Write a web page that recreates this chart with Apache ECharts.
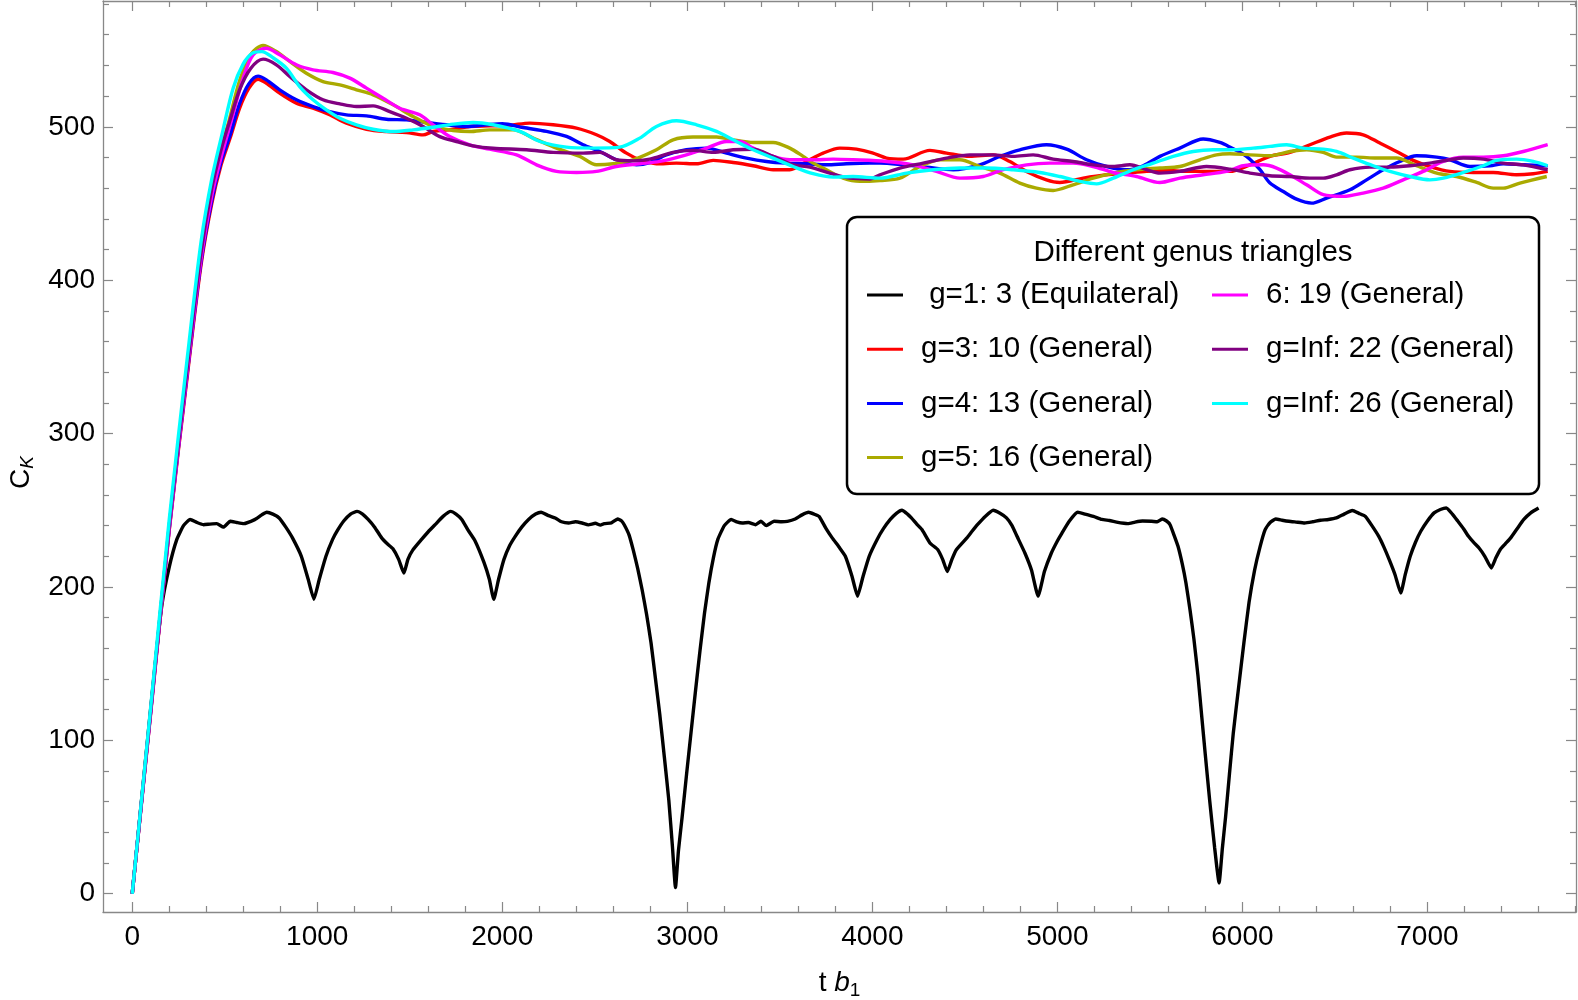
<!DOCTYPE html>
<html>
<head>
<meta charset="utf-8">
<script src="https://cdn.jsdelivr.net/npm/echarts@6/dist/echarts.min.js"></script>
<style>html,body{margin:0;padding:0;background:#fff}#c{width:1578px;height:1000px}</style>
</head>
<body>
<div id="c"></div>
<script>
// ---- tick values ----
const xMajorTicks = [0,1000,2000,3000,4000,5000,6000,7000];
const xMinorTicks = [200,400,600,800,1200,1400,1600,1800,2200,2400,2600,2800,3200,3400,3600,3800,4200,4400,4600,4800,5200,5400,5600,5800,6200,6400,6600,6800,7200,7400,7600,7800];
const yMajorTicks = [0,100,200,300,400,500];
const yMinorTicks = [20,40,60,80,120,140,160,180,220,240,260,280,320,340,360,380,420,440,460,480,520,540,560,580];

// ---- series names ----
const seriesNames = [' g=1: 3 (Equilateral)','g=3: 10 (General)','g=4: 13 (General)','g=5: 16 (General)','6: 19 (General)','g=Inf: 22 (General)','g=Inf: 26 (General)'];
const legendTitle = 'Different genus triangles';

// ---- data [t b1, C_K] ----
const g1Equilateral = [[0,0],[70,85],[120,145],[160,188],[200,213],[241,231],[277,240],[313,244],[350,242],[385,240.6],[420,241],[457,241.3],[493,239],[530,242.8],[565,242],[602,241.3],[662,243.9],[700,247],[727,248.7],[760,247.5],[794,245],[830,239],[866,232],[914,220],[951,205],[982,192],[1011,205],[1047,220],[1083,231],[1110,237],[1143,243],[1180,247.5],[1215,249.3],[1245,247.5],[1275,244],[1310,239],[1348,232],[1380,228],[1408,225],[1440,218],[1468,209],[1490,218],[1516,224],[1564,231],[1600,236],[1637,240.6],[1680,246],[1721,249.3],[1750,247.5],[1781,244],[1815,237],[1853,230],[1901,216],[1930,205],[1954,192],[1980,205],[2009,218],[2040,227],[2070,233],[2105,239],[2142,244],[2180,247.5],[2210,248.7],[2250,246.5],[2286,245],[2320,242.5],[2359,241.7],[2395,242.5],[2431,241.7],[2465,240.5],[2503,241.5],[2530,240.3],[2551,241.3],[2590,241.8],[2623,244.3],[2645,243],[2659,240.6],[2685,234],[2708,224],[2732,212],[2756,198],[2780,182],[2804,163.5],[2828,140],[2852,116],[2876,89],[2900,61],[2920,30],[2936,4],[2952,28],[2972,50],[2996,78],[3020,105],[3044,132],[3069,159],[3093,183],[3117,203],[3141,219],[3165,231],[3200,240],[3237,244],[3267,242.5],[3297,241.7],[3330,242],[3369,240.6],[3398,242.8],[3427,240],[3469,242.8],[3510,242.5],[3541,242.8],[3583,244.3],[3620,247],[3655,248.7],[3685,247.5],[3712,246],[3750,238],[3783,232],[3820,226],[3854,220],[3890,207],[3920,194],[3950,207],[3983,220],[4026,231],[4060,238],[4097,244],[4130,248],[4160,250],[4190,247.5],[4211,245],[4240,241],[4268,237.4],[4311,228.7],[4354,224.3],[4380,218],[4405,210],[4430,218],[4454,224.3],[4511,232],[4540,236.5],[4568,240.6],[4610,246],[4653,250],[4690,248],[4725,245],[4755,240],[4782,233],[4825,222],[4860,211],[4896,194],[4930,210],[4967,222],[5000,230],[5024,235],[5065,243],[5110,248.7],[5150,247.5],[5195,246],[5240,244],[5281,243.3],[5320,242.3],[5360,241.5],[5381,241.3],[5420,242.3],[5460,243],[5509,242.8],[5540,242.5],[5566,244.3],[5590,243],[5609,240.6],[5630,234],[5652,226.5],[5675,215],[5695,202.6],[5717,185],[5738,166],[5760,142],[5780,116],[5800,90],[5823,61],[5850,30],[5874,7],[5892,30],[5909,50],[5930,78],[5951,105],[5980,135],[6008,163.5],[6036,190],[6066,211],[6095,226],[6123,237.4],[6150,242],[6180,244.3],[6215,243.5],[6251,242.8],[6290,242.3],[6337,241.7],[6380,242.5],[6422,243.5],[6465,244],[6508,245],[6550,247.5],[6594,249.8],[6630,248],[6665,246],[6700,240],[6737,233],[6765,226],[6793,218],[6825,208],[6856,196],[6880,208],[6907,220],[6935,229],[6964,236.3],[7000,243],[7036,248.3],[7070,250.5],[7102,251.5],[7135,247.5],[7165,242.8],[7195,238],[7222,233],[7250,229],[7279,225.4],[7310,220],[7345,212.4],[7370,219],[7393,224.3],[7420,228],[7450,232],[7485,238],[7521,244],[7560,248.5],[7601,251.5]];

const g3General = [[0,0],[100,118],[200,237],[300,340],[372,410],[430,450],[480,475],[530,493],[580,512],[630,525],[680,531],[725,528.4],[797,521.9],[887,515.4],[977,512.1],[1067,507.8],[1158,502.3],[1266,498.4],[1374,496.9],[1482,496.3],[1572,494.7],[1626,496.9],[1734,498.4],[1824,500.2],[1932,500.6],[2040,501],[2149,502.4],[2275,501.3],[2401,499.1],[2509,494.8],[2581,490.4],[2671,482.8],[2743,478.5],[2833,475.9],[2941,476.3],[3050,475.9],[3140,478.1],[3248,476.7],[3356,474.6],[3464,472],[3554,472],[3644,477.4],[3734,482.8],[3824,486.1],[3914,485.4],[4000,483],[4077,479.6],[4167,478.9],[4311,484.6],[4401,482.8],[4527,480.7],[4653,481.7],[4743,477.4],[4833,470.9],[4941,465.4],[5013,463.7],[5140,466.5],[5266,468.7],[5374,469.8],[5482,470.9],[5590,471.5],[5698,470.9],[5806,470.9],[5932,470.9],[6041,475.2],[6149,480.7],[6257,483.3],[6365,488.3],[6473,493.3],[6563,495.9],[6653,494.8],[6743,489.4],[6833,483.9],[6923,478.1],[7013,474.1],[7122,470.9],[7248,470.2],[7356,470.2],[7482,468.7],[7572,469.4],[7650,470.9]];

const g4General = [[0,0],[100,119],[200,238],[300,342],[372,412],[430,452],[480,477],[530,495],[580,515],[630,528],[680,533],[725,530.6],[797,524.1],[887,517.6],[977,513.2],[1067,509.9],[1158,507.8],[1266,507.1],[1374,504.9],[1482,504.5],[1590,502.8],[1698,501.3],[1806,500.2],[1914,501.3],[2000,502],[2113,499.5],[2239,497],[2347,493.7],[2437,488.3],[2527,483.9],[2617,478.5],[2725,475.2],[2797,476.7],[2887,481.7],[2995,485],[3104,486.1],[3212,482.8],[3320,479.6],[3428,477.4],[3536,476.3],[3644,475.9],[3752,475.2],[3860,475.9],[3986,476.3],[4041,476.3],[4167,475.2],[4293,473.7],[4437,472],[4581,475.2],[4689,480.7],[4797,485],[4941,488.3],[5050,485.4],[5158,478.5],[5266,474.1],[5374,472],[5464,474.6],[5554,480.7],[5662,486.1],[5788,492],[5878,489.8],[5932,486.8],[6022,480.7],[6095,472],[6149,463.3],[6221,457.8],[6293,452.8],[6374,450.2],[6455,453.5],[6581,458.9],[6671,465.4],[6761,472],[6851,477.4],[6941,481.1],[7050,480.2],[7122,478.5],[7230,474.1],[7338,474.6],[7410,475.9],[7518,475.2],[7650,474.6]];

const g5General = [[0,0],[100,120],[200,240],[300,346],[372,418],[430,460],[480,486],[521,503],[580,530],[640,547],[707,553],[779,549.1],[851,542.6],[941,534.9],[1031,529.5],[1122,527.3],[1212,524.1],[1302,520.8],[1410,514.3],[1518,506.7],[1626,500.2],[1734,497.6],[1824,496.9],[1932,498],[2059,498],[2167,492.6],[2293,486.1],[2419,480.7],[2509,475.2],[2599,475.9],[2707,478.5],[2833,485],[2923,491.5],[3031,493.3],[3158,493.3],[3248,491.5],[3356,489.8],[3464,489.8],[3554,486.1],[3626,480.7],[3680,476.3],[3752,472],[3842,466.5],[3932,464.4],[4041,465],[4149,466.5],[4257,474.1],[4365,478.5],[4473,478.5],[4581,474.1],[4689,469.8],[4797,463.3],[4887,460],[4977,458.5],[5085,462.2],[5194,466.5],[5302,469.8],[5428,472],[5554,473.1],[5662,474.1],[5770,478.5],[5860,481.7],[5932,482.4],[6041,481.7],[6149,481.1],[6257,483.9],[6347,485],[6437,483.3],[6509,480.2],[6617,480.2],[6725,479.6],[6833,479.6],[6941,474.6],[7050,469.8],[7158,467.6],[7266,463.7],[7356,460],[7410,460],[7500,463.3],[7645,467.6]];

const g6General = [[0,0],[100,119],[200,238],[300,343],[372,414],[430,455],[480,480],[538,505],[600,532],[653,546.9],[725,551.2],[797,546.9],[887,540.4],[977,537.1],[1085,535.4],[1176,531.7],[1266,525.2],[1356,518.6],[1446,512.1],[1554,507.8],[1626,501.3],[1716,493.6],[1824,488.2],[1932,485.4],[2077,481.7],[2185,475.2],[2293,470.9],[2401,470.2],[2509,470.9],[2617,474.1],[2743,475.9],[2851,477.4],[2995,481.7],[3104,486.1],[3212,490.4],[3284,490.4],[3356,486.1],[3464,480.7],[3554,478.5],[3680,478.5],[3788,478.9],[3896,478.5],[4077,477.4],[4221,475.2],[4347,470.9],[4473,466.5],[4599,467.6],[4707,472],[4833,475.2],[4959,476.3],[5085,476.3],[5194,474.1],[5302,470.2],[5428,467.6],[5554,463.7],[5662,466.5],[5788,468.7],[5914,470.9],[6005,474.6],[6113,475.2],[6185,473.1],[6257,468.7],[6347,462.2],[6437,455.7],[6545,454.6],[6653,456.8],[6761,460],[6869,465.4],[6977,470.9],[7086,477.4],[7194,480.2],[7302,480.2],[7410,481.1],[7518,483.9],[7650,488.3]];

const gInf22General = [[0,0],[100,120],[200,240],[300,346],[372,418],[430,460],[480,485],[525,503],[580,524],[640,538],[707,544.1],[779,540.4],[851,532.8],[941,524.1],[1031,517.6],[1122,514.9],[1212,513.2],[1302,513.6],[1392,509.9],[1482,505.6],[1572,500.2],[1662,493.6],[1752,490.4],[1842,487.6],[1950,486],[2131,485],[2275,483.3],[2437,482.8],[2527,483.3],[2617,478.5],[2707,477.8],[2797,478.9],[2923,483.3],[3031,484.6],[3140,483.3],[3248,485],[3356,485.4],[3464,480.7],[3572,475.2],[3662,473.7],[3770,469.8],[3878,466.5],[3986,466],[4041,468.7],[4149,473.1],[4275,476.3],[4401,479.6],[4527,481.7],[4653,481.7],[4761,480.7],[4869,481.7],[4977,478.9],[5085,477.4],[5194,475.2],[5302,474.1],[5392,475.2],[5482,472],[5554,469.8],[5662,470.9],[5806,474.1],[5932,472.4],[6041,469.8],[6149,468.1],[6257,467.6],[6365,466.5],[6437,466.5],[6509,468.7],[6581,472],[6689,473.7],[6797,473.7],[6905,474.6],[7013,476.3],[7122,478.5],[7194,479.6],[7302,478.9],[7410,476.3],[7518,475.2],[7650,472]];

const gInf26General = [[0,0],[100,122],[200,244],[300,352],[372,425],[430,466],[489,497],[545,525],[600,541],[650,548],[700,549],[761,545],[833,538.2],[905,526.2],[977,517.6],[1049,511],[1122,505.6],[1212,501.3],[1302,498.4],[1410,496.9],[1518,498],[1626,499.7],[1734,501.7],[1842,502.8],[1950,501.3],[2095,497],[2203,490.4],[2347,486.7],[2491,486.1],[2635,486.7],[2743,492.6],[2833,500.2],[2941,503.9],[3050,501.3],[3158,497],[3248,491.5],[3356,485],[3464,479.6],[3572,474.1],[3680,469.4],[3788,467.2],[3896,467.6],[4041,466.5],[4185,469.8],[4329,472],[4473,473.1],[4617,473.1],[4761,472],[4905,470.2],[5013,467.6],[5122,464.4],[5212,462.8],[5302,466.5],[5410,472],[5518,476.3],[5626,480.7],[5734,483.9],[5842,485],[5932,485],[6059,486.1],[6149,487.2],[6239,488.3],[6329,486.1],[6437,485.4],[6509,483.9],[6599,479.6],[6707,474.6],[6797,470.9],[6905,467.6],[7013,465.4],[7086,466.5],[7194,470.2],[7302,474.6],[7374,478.1],[7482,478.9],[7572,477.4],[7650,474.6]];

const seriesData = [g1Equilateral, g3General, g4General, g5General, g6General, gInf22General, gInf26General];
const seriesColors = ['#000000','#ff0000','#0000ff','#aaaa00','#ff00ff','#800080','#00ffff'];

const FONT = "'Liberation Sans', Arial, sans-serif";
const AXIS_GRAY = '#888888';
const LEGEND_FS = 29.5;

const chart = echarts.init(document.getElementById('c'), null, {renderer: 'canvas'});

function xAxisDef(pos, ticks, len, showLine, showLabel, extra) {
  return Object.assign({
    type: 'value', position: pos, min: -158, max: 7803,
    axisLine: {show: showLine, onZero: false, lineStyle: {color: AXIS_GRAY, width: 1.3}},
    axisTick: {show: true, inside: true, length: len, customValues: ticks, lineStyle: {color: AXIS_GRAY, width: 1.2}},
    axisLabel: {show: showLabel, customValues: ticks, margin: 11, color: '#000', fontSize: 28, fontFamily: FONT, formatter: v => String(v)},
    splitLine: {show: false}
  }, extra || {});
}
function yAxisDef(pos, ticks, len, showLine, showLabel, extra) {
  return Object.assign({
    type: 'value', position: pos, min: -11.9, max: 582,
    axisLine: {show: showLine, onZero: false, lineStyle: {color: AXIS_GRAY, width: 1.3}},
    axisTick: {show: true, inside: true, length: len, customValues: ticks, lineStyle: {color: AXIS_GRAY, width: 1.2}},
    axisLabel: {show: showLabel, customValues: ticks, margin: 8, color: '#000', fontSize: 28, fontFamily: FONT, formatter: v => String(v)},
    splitLine: {show: false}
  }, extra || {});
}
function legendDef(left, names) {
  return {
    show: true, orient: 'vertical', left: left, top: 280, padding: 0,
    itemGap: 24.2, itemWidth: 36, itemHeight: 3, icon: 'rect',
    data: names, selectedMode: false, z: 6,
    textStyle: {fontSize: LEGEND_FS, lineHeight: 29.5, fontFamily: FONT, color: '#000', padding: [0, 0, 0, 13]}
  };
}

const option = {
  animation: false,
  backgroundColor: '#ffffff',
  grid: {left: 103, top: 1, width: 1473, height: 911, containLabel: false, outerBoundsMode: 'none'},
  xAxis: [
    xAxisDef('bottom', xMajorTicks, 10, true, true, {
      name: '{t|t }{b|b}{s|1}', nameLocation: 'middle', nameGap: 55,
      nameTextStyle: {rich: {
        t: {fontSize: 28, fontFamily: FONT, color: '#000', lineHeight: 33},
        b: {fontSize: 28, fontFamily: FONT, fontStyle: 'italic', color: '#000', lineHeight: 33},
        s: {fontSize: 19, fontFamily: FONT, color: '#000', lineHeight: 12, verticalAlign: 'bottom'}
      }}
    }),
    xAxisDef('bottom', xMinorTicks, 6, false, false),
    xAxisDef('top', xMajorTicks, 10, true, false),
    xAxisDef('top', xMinorTicks, 6, false, false)
  ],
  yAxis: [
    yAxisDef('left', yMajorTicks, 10, true, true, {
      name: '{c|C}{k|K}', nameLocation: 'middle', nameGap: 62, nameRotate: 90,
      nameTextStyle: {padding: [0, 32, 0, 0], rich: {
        c: {fontSize: 28, fontFamily: FONT, color: '#000', lineHeight: 33},
        k: {fontSize: 19, fontFamily: FONT, fontStyle: 'italic', color: '#000', lineHeight: 12, verticalAlign: 'bottom'}
      }}
    }),
    yAxisDef('left', yMinorTicks, 6, false, false),
    yAxisDef('right', yMajorTicks, 10, true, false),
    yAxisDef('right', yMinorTicks, 6, false, false)
  ],
  legend: [
    legendDef(867, seriesNames.slice(0, 4)),
    legendDef(1212, seriesNames.slice(4))
  ],
  graphic: [
    {type: 'rect', z: 5, silent: true,
     shape: {x: 847, y: 217, width: 692, height: 277, r: 10},
     style: {fill: '#ffffff', stroke: '#000000', lineWidth: 2.5}},
    {type: 'text', z: 7, silent: true,
     style: {x: 1193, y: 252.6, text: legendTitle, align: 'center', verticalAlign: 'middle',
             fontSize: LEGEND_FS, fontFamily: FONT, fill: '#000'}}
  ],
  series: seriesData.map((d, i) => ({
    name: seriesNames[i],
    type: 'line',
    xAxisIndex: 0, yAxisIndex: 0,
    data: d,
    showSymbol: false,
    symbol: 'none',
    smooth: i === 0 ? 0.15 : 0.3,
    clip: true,
    silent: true,
    color: seriesColors[i],
    itemStyle: {color: seriesColors[i]},
    lineStyle: {color: seriesColors[i], width: 3.4},
    emphasis: {disabled: true},
    z: 2
  }))
};
chart.setOption(option);
</script>
</body>
</html>
